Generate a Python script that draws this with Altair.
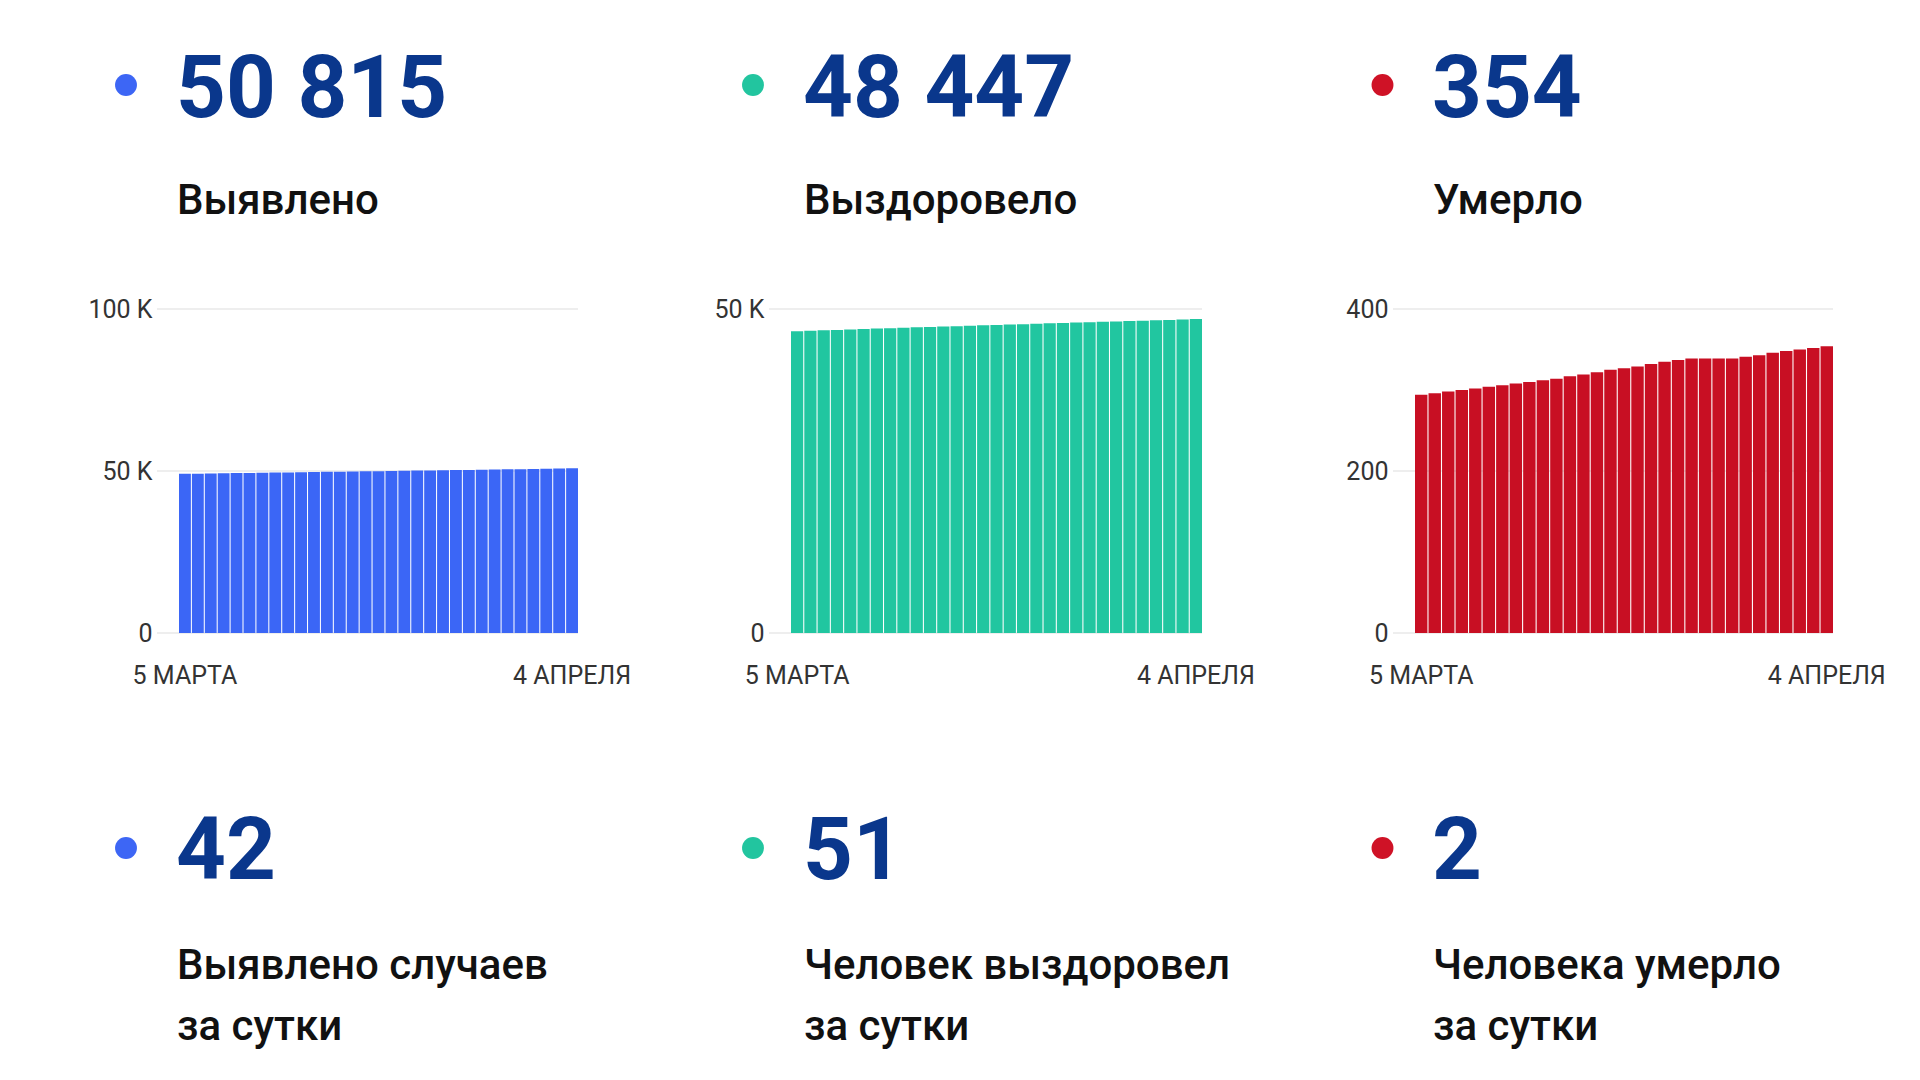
import altair as alt
import pandas as pd

# ---------------- data ----------------
days = [f"{d} МАРТА" for d in range(5, 32)] + [f"{d} АПРЕЛЯ" for d in range(1, 5)]

detected = [49120, 49178, 49236, 49292, 49350, 49405, 49462, 49518, 49573, 49630,
            49684, 49740, 49796, 49850, 49905, 49960, 50016, 50070, 50126, 50180,
            50236, 50290, 50346, 50400, 50455, 50510, 50566, 50620, 50690, 50773, 50815]
recovered = [46570, 46640, 46708, 46775, 46843, 46910, 46975, 47040, 47104, 47168,
             47232, 47295, 47357, 47418, 47480, 47541, 47601, 47662, 47722, 47782,
             47840, 47899, 47958, 48016, 48075, 48133, 48191, 48249, 48320, 48396, 48447]
deaths = [294, 296, 298, 300, 302, 304, 306, 308, 310, 312, 314, 317, 319, 322, 325,
          327, 329, 332, 335, 337, 339, 339, 339, 339, 341, 343, 346, 348, 350, 352, 354]

totals = [50815, 48447, 354]
daily = [42, 51, 2]
titles = ["Выявлено", "Выздоровело", "Умерло"]
daily_titles_1 = ["Выявлено случаев", "Человек выздоровел", "Человека умерло"]
daily_titles_2 = ["за сутки", "за сутки", "за сутки"]
y_ticks = [[0, 50000, 100000], [0, 50000], [0, 200, 400]]
y_domains = [[0, 100000], [0, 50000], [0, 400]]

# ---------------- style / layout ----------------
bar_colors = ["#3b66f6", "#21c6a0", "#c80f23"]
dot_colors = ["#3d66f5", "#22c59f", "#cf1226"]
num_color = "#0a378c"
FONT = "Roboto"
widths = [399, 411, 418]
H = 324
dot_dx = [-53, -38, -32.5]
text_dx = [-3, 12, 17]


def fmt(v):
    return f"{v:,}".replace(",", " ")


def panel(i, values):
    w = widths[i]
    df = pd.DataFrame({"day": days, "value": values})
    if i < 2:
        lab = "datum.value == 0 ? '0' : format(datum.value / 1000, 'd') + ' K'"
    else:
        lab = "format(datum.value, 'd')"
    yscale = alt.Scale(domain=y_domains[i], nice=False, zero=True)
    yaxis = alt.Axis(values=y_ticks[i], labelExpr=lab, title=None, grid=False,
                     domain=False, ticks=False, tickSize=0, labelPadding=27,
                     labelFont=FONT, labelFontSize=25, labelColor="#333333")
    xaxis = alt.Axis(values=[days[0], days[-1]], title=None, domain=False, ticks=False,
                     tickSize=0, labelPadding=30, labelAngle=0, labelFont=FONT,
                     labelFontSize=25, labelColor="#333333", labelOverlap=False)
    x = alt.X("day:O", sort=days, scale=alt.Scale(paddingInner=0.08, paddingOuter=0), axis=xaxis)
    y = alt.Y("value:Q", scale=yscale, axis=yaxis)

    grid = alt.Chart(pd.DataFrame({"value": y_ticks[i]})).mark_rule(
        color="#e8e8e8", strokeWidth=1.3
    ).encode(y=y, x=alt.value(-22), x2=alt.value(w))

    bars = alt.Chart(df).mark_bar(color=bar_colors[i]).encode(x=x, y=y)

    def txt(s, dx, dy, size, weight, color):
        return alt.Chart(pd.DataFrame({"t": [s]})).mark_text(
            align="left", baseline="alphabetic", font=FONT, fontSize=size,
            fontWeight=weight, color=color
        ).encode(x=alt.value(dx), y=alt.value(dy), text="t:N")

    def dot(dy):
        return alt.Chart(pd.DataFrame({"t": [1]})).mark_circle(
            color=dot_colors[i], opacity=1, size=480
        ).encode(x=alt.value(dot_dx[i]), y=alt.value(dy))

    layers = [grid, bars,
              dot(-224), txt(fmt(totals[i]), text_dx[i], -192, 87, "bold", num_color),
              txt(titles[i], text_dx[i] + 1, -95.5, 42, 500, "#111111"),
              dot(539), txt(fmt(daily[i]), text_dx[i], 570, 87, "bold", num_color),
              txt(daily_titles_1[i], text_dx[i] + 1, 670, 42, 500, "#111111"),
              txt(daily_titles_2[i], text_dx[i] + 1, 731, 42, 500, "#111111")]
    if i == 0:
        anchor = alt.Chart(pd.DataFrame({"t": [1]})).mark_rect(opacity=0).encode(
            x=alt.value(-171), x2=alt.value(-170), y=alt.value(-301), y2=alt.value(-300))
        layers.append(anchor)
    return alt.layer(*layers).properties(width=w, height=H)


chart = alt.hconcat(
    panel(0, detected), panel(1, recovered), panel(2, deaths),
    spacing=213, bounds="flush"
).properties(
    padding={"left": 0, "top": 0, "right": 0, "bottom": 16}, background="white"
).configure_view(stroke=None)

chart.save("out.html", embed_options={"renderer": "svg", "actions": False})
